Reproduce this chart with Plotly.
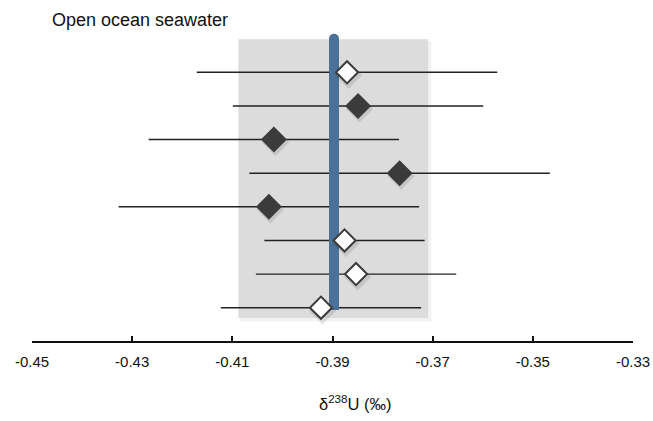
import plotly.graph_objects as go

# Data
rows = [8, 7, 6, 5, 4, 3, 2, 1]  # top to bottom
d238U = [-0.3871, -0.3849, -0.4017, -0.3766, -0.4027, -0.3876, -0.3853, -0.3923]
err = [0.030, 0.025, 0.025, 0.030, 0.030, 0.016, 0.020, 0.020]
filled = [False, True, True, True, True, False, False, False]
seawater_mean = -0.3897
band_low, band_high = -0.4088, -0.3709
tick_vals = [-0.45, -0.43, -0.41, -0.39, -0.37, -0.35, -0.33]
tick_text = ["-0.45", "-0.43", "-0.41", "-0.39", "-0.37", "-0.35", "-0.33"]

DARK = "#3b3b3b"
BLUE = "#4a7299"
fig = go.Figure()

# error bars (under the blue line)
fig.add_trace(go.Scatter(
    x=d238U, y=rows, mode="markers",
    marker=dict(size=1, opacity=0),
    error_x=dict(type="data", array=err, visible=True, width=0, thickness=1.4, color="#222222"),
    showlegend=False, hoverinfo="skip"))

# mean seawater line
fig.add_trace(go.Scatter(
    x=[seawater_mean, seawater_mean], y=[0.93, 9.0], mode="lines",
    line=dict(color=BLUE, width=10), showlegend=False, hoverinfo="skip"))
fig.add_trace(go.Scatter(
    x=[seawater_mean], y=[9.0], mode="markers",
    marker=dict(symbol="circle", size=10, color=BLUE, line=dict(width=0)),
    showlegend=False, hoverinfo="skip"))

# shadows
fig.add_trace(go.Scatter(
    x=[v + 0.0003 for v in d238U], y=[r - 0.09 for r in rows], mode="markers",
    marker=dict(symbol="diamond", size=21, color="rgba(0,0,0,0.10)", line=dict(width=0)),
    showlegend=False, hoverinfo="skip"))

fx = [v for v, f in zip(d238U, filled) if f]
fy = [r for r, f in zip(rows, filled) if f]
ox = [v for v, f in zip(d238U, filled) if not f]
oy = [r for r, f in zip(rows, filled) if not f]

fig.add_trace(go.Scatter(
    x=fx, y=fy, mode="markers",
    marker=dict(symbol="diamond", size=20, color=DARK, line=dict(width=0)),
    showlegend=False))
fig.add_trace(go.Scatter(
    x=ox, y=oy, mode="markers",
    marker=dict(symbol="diamond", size=17, color="white", line=dict(width=2, color=DARK)),
    showlegend=False))

# grey band with soft shadow
fig.add_shape(type="rect", xref="x", yref="y", x0=band_low + 0.0003, x1=band_high + 0.0006,
              y0=0.60, y1=8.93, fillcolor="rgba(0,0,0,0.05)", line=dict(width=0), layer="below")
fig.add_shape(type="rect", xref="x", yref="y", x0=band_low, x1=band_high,
              y0=0.694, y1=8.98, fillcolor="#dcdcdc", line=dict(width=0), layer="below")

fig.add_annotation(xref="paper", yref="paper", x=0.030, y=1.032, xanchor="left", yanchor="middle",
                   text="Open ocean seawater", showarrow=False,
                   font=dict(size=18, color="#111111"))
fig.add_annotation(xref="paper", yref="paper", x=0.537, y=-0.199, xanchor="center", yanchor="middle",
                   text="\u03b4<sup>238</sup>U (\u2030)", showarrow=False,
                   font=dict(size=16.5, color="#111111"))

fig.update_layout(
    width=653, height=421,
    margin=dict(l=32, r=20, t=30, b=80, autoexpand=False),
    paper_bgcolor="white", plot_bgcolor="white",
    font=dict(family="Liberation Sans, Arial, sans-serif", color="#111111"),
    xaxis=dict(range=[-0.45, -0.33], tickvals=tick_vals, ticktext=tick_text, automargin=False,
               showgrid=False, zeroline=False, showline=True, linecolor="#111111", linewidth=2,
               ticks="inside", ticklen=5, tickwidth=1.5, tickcolor="#111111",
               tickfont=dict(size=15), ticklabelstandoff=6),
    yaxis=dict(range=[0.01, 9.258], visible=False, showgrid=False, zeroline=False),
)

fig.write_html("out.html", config={"displayModeBar": False},
               post_script="document.body.style.margin='0';")
